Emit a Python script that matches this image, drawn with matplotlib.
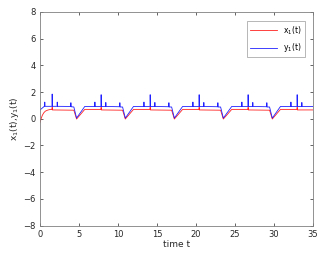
import matplotlib
matplotlib.use("Agg")
import matplotlib.pyplot as plt

# blue trace y1(t): breakpoints
t_y = [0.0, 0.6, 0.62, 0.65, 1.55, 1.57, 1.6, 2.2, 2.22, 2.25, 3.95, 3.97, 4.0,
       4.35, 4.7, 5.75,
       7.03, 7.05, 7.08, 7.83, 7.85, 7.88, 8.43, 8.45, 8.48, 10.23, 10.25, 10.28,
       10.6, 10.95, 12.0,
       13.32, 13.34, 13.37, 14.12, 14.14, 14.17, 14.72, 14.74, 14.77, 16.52, 16.54, 16.57,
       16.89, 17.24, 18.3,
       19.6, 19.62, 19.65, 20.4, 20.42, 20.45, 21.0, 21.02, 21.05, 22.8, 22.82, 22.85,
       23.17, 23.52, 24.6,
       25.88, 25.9, 25.93, 26.68, 26.7, 26.73, 27.28, 27.3, 27.33, 29.08, 29.1, 29.13,
       29.45, 29.8, 30.85,
       32.17, 32.19, 32.22, 32.97, 32.99, 33.02, 33.57, 33.59, 33.62, 35.0]
y1 = [0.65, 0.95, 1.25, 0.93, 0.93, 1.85, 0.93, 0.93, 1.25, 0.93, 0.92, 1.2, 0.9,
      0.88, 0.05, 0.92,
      0.92, 1.25, 0.92, 0.92, 1.8, 0.92, 0.92, 1.22, 0.92, 0.9, 1.2, 0.88,
      0.88, 0.05, 0.92,
      0.92, 1.25, 0.92, 0.92, 1.8, 0.92, 0.92, 1.22, 0.92, 0.9, 1.2, 0.88,
      0.88, 0.05, 0.92,
      0.92, 1.25, 0.92, 0.92, 1.8, 0.92, 0.92, 1.22, 0.92, 0.9, 1.2, 0.88,
      0.88, 0.05, 0.92,
      0.92, 1.25, 0.92, 0.92, 1.8, 0.92, 0.92, 1.22, 0.92, 0.9, 1.2, 0.88,
      0.88, 0.05, 0.92,
      0.92, 1.25, 0.92, 0.92, 1.8, 0.92, 0.92, 1.22, 0.92, 0.92]

# red trace x1(t)
t_x = [0.0, 0.15, 0.3, 0.5, 0.7, 1.0, 1.3, 1.55, 1.57, 1.6, 4.35, 4.7, 5.75,
       7.83, 7.85, 7.88, 10.6, 10.95, 12.0,
       14.12, 14.14, 14.17, 16.89, 17.24, 18.3,
       20.4, 20.42, 20.45, 23.17, 23.52, 24.6,
       26.68, 26.7, 26.73, 29.45, 29.8, 30.85,
       32.97, 32.99, 33.02, 35.0]
x1 = [-0.3, 0.0, 0.25, 0.45, 0.57, 0.65, 0.69, 0.7, 0.85, 0.66, 0.64, -0.02, 0.7,
      0.7, 0.85, 0.66, 0.64, -0.02, 0.7,
      0.7, 0.85, 0.66, 0.64, -0.02, 0.7,
      0.7, 0.85, 0.66, 0.64, -0.02, 0.7,
      0.7, 0.85, 0.66, 0.64, -0.02, 0.7,
      0.7, 0.85, 0.66, 0.66]

x_ticks = [0, 5, 10, 15, 20, 25, 30, 35]
y_ticks = [-8, -6, -4, -2, 0, 2, 4, 6, 8]

fig = plt.figure(figsize=(3.3, 2.54), dpi=100)
ax = fig.add_axes([0.121, 0.112, 0.827, 0.841])

ax.plot(t_x, x1, color="#ff2020", lw=0.6, label="x$_1$(t)")
ax.plot(t_y, y1, color="#2020ff", lw=0.6, label="y$_1$(t)")

ax.set_xlim(0, 35)
ax.set_ylim(-8, 8)
ax.set_xticks(x_ticks)
ax.set_yticks(y_ticks)
ax.tick_params(direction="in", top=True, right=True, labelsize=6,
               length=2.5, width=0.5, colors="#262626", pad=3)
for sp in ax.spines.values():
    sp.set_color("#808080")
    sp.set_linewidth(0.6)

ax.set_xlabel("time t", fontsize=6.5, color="#262626", labelpad=1)
ax.set_ylabel("x$_1$(t),y$_1$(t)", fontsize=6.5, color="#262626", labelpad=2)

leg = ax.legend(loc="upper right", fontsize=5.5, fancybox=False,
                handlelength=3.5, borderpad=0.4, labelspacing=0.6,
                bbox_to_anchor=(0.985, 0.975))
leg.get_frame().set_edgecolor("#808080")
leg.get_frame().set_linewidth(0.5)

fig.savefig("out.png", dpi=100)
